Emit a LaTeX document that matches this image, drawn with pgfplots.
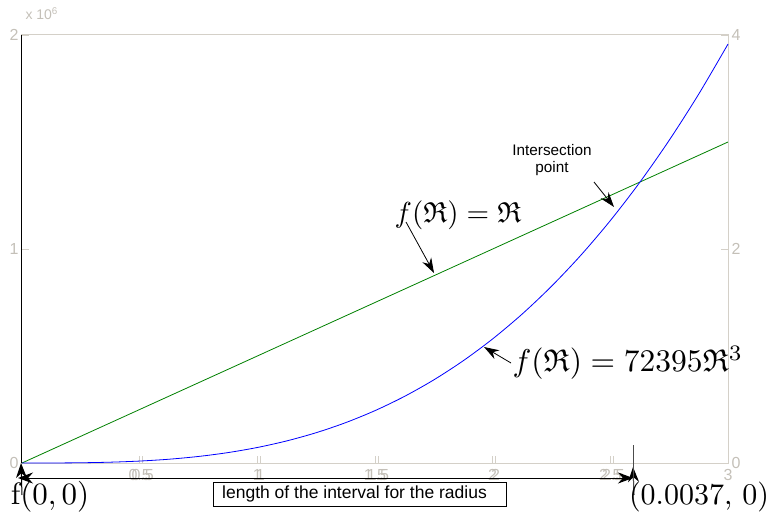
\documentclass[border=0pt]{standalone}
\usepackage{pgfplots}
\pgfplotsset{compat=1.18}
\usepackage{amssymb}
\usepackage{fontspec}
\newfontfamily\arial{Liberation Sans}
\usetikzlibrary{arrows.meta}
\definecolor{fr}{RGB}{212,208,200}
\definecolor{tl}{RGB}{196,192,184}
\definecolor{mgreen}{RGB}{0,128,0}
\begin{document}
\begin{tikzpicture}[x=1pt,y=1pt]
\useasboundingbox (0,0) rectangle (776,525);
\begin{axis}[at={(22pt,62pt)}, anchor=south west, scale only axis,
  width=706pt, height=428pt, xmin=0, xmax=3, ymin=0, ymax=2,
  axis line style={fr, line width=1pt},
  xtick={0.5,1,1.5,2,2.5,3}, ytick={0,1,2},
  extra x ticks={0.5127,1.0127,1.5127,2.0127,2.5127},
  extra x tick labels={0.5,1,1.5,2,2.5},
  xtick pos=bottom, ytick pos=left, tick align=inside,
  major tick length=7pt, tick style={fr, line width=0.8pt},
  /pgf/number format/assume math mode=true,
  ticklabel style={font=\arial\fontsize{16}{16}\selectfont, text=tl},
  xticklabel style={yshift=-3pt},
  scaled y ticks=false,
  clip=false]
\addplot[mgreen, line width=0.8pt] coordinates {(0,0) (3,1.5)};
\draw[black, line width=1pt] (axis cs:0,0) -- (axis cs:0,2);
\end{axis}
\begin{axis}[at={(22pt,62pt)}, anchor=south west, scale only axis,
  width=706pt, height=428pt, xmin=0, xmax=3, ymin=0, ymax=4,
  axis x line=none, axis y line*=right,
  axis line style={fr, line width=1pt},
  ytick={0,2,4}, tick align=inside,
  major tick length=7pt, tick style={fr, line width=0.8pt},
  /pgf/number format/assume math mode=true,
  ticklabel style={font=\arial\fontsize{16}{16}\selectfont, text=tl},
  clip=false]
\addplot[blue, line width=0.8pt, smooth] coordinates {
(0,0) (0.125,0.000283) (0.25,0.00227) (0.375,0.00765) (0.5,0.01813)
(0.625,0.0354) (0.75,0.06117) (0.875,0.09714) (1,0.145) (1.125,0.20646)
(1.25,0.2832) (1.375,0.37694) (1.5,0.4894) (1.625,0.6222) (1.75,0.7771)
(1.875,0.95581) (2,1.16) (2.125,1.39138) (2.25,1.6517) (2.375,1.94249)
(2.5,2.2656) (2.625,2.62274) (2.75,3.0156) (2.875,3.44573) (3,3.915)};
\end{axis}
% multiplier
\node[font=\arial\fontsize{14}{14}\selectfont, text=tl, anchor=west] at (22,511) {x 10\textsuperscript{6}};
% annotations
\node[font=\arial\fontsize{15.3}{17}\selectfont, align=center] at (552,365) {Intersection\\point};
\draw[-{Stealth[length=15pt,width=10pt]}, line width=0.8pt] (594,343) -- (614,318);
\node[scale=2.9] at (458,310) {$f(\mathfrak{R}) = \mathfrak{R}$};
\draw[-{Stealth[length=15pt,width=10pt]}, line width=0.8pt] (406,303) -- (434,252);
\node[scale=3.15, anchor=west, inner sep=0pt] at (512,162) {$f(\mathfrak{R}) = 72395\mathfrak{R}^3$};
\draw[-{Stealth[length=15pt,width=10pt]}, line width=0.8pt] (511,162) -- (484,178);
% interval
\draw[{Stealth[length=15pt,width=11pt]}-{Stealth[length=15pt,width=11pt]}, line width=1pt] (18,47) -- (633,47);
\draw[-{Stealth[length=15pt,width=11pt]}, line width=1pt] (22,30) -- (21,62);
\draw[-{Stealth[length=15pt,width=11pt]}, line width=1pt] (634,30) -- (633,58);
\draw[line width=1pt, black!70] (633,80) -- (633,35);
\node[scale=3.1] at (50,28) {$\mathrm{f}(0,0)$};
\node[scale=3.0] at (699,28) {(0.0037, 0)};
\draw[line width=0.7pt] (213,43) rectangle (506,19);
\node[font=\arial\fontsize{17.5}{18}\selectfont, anchor=west, inner sep=0pt] at (222,31) {length of the interval for the radius};
\end{tikzpicture}
\end{document}
